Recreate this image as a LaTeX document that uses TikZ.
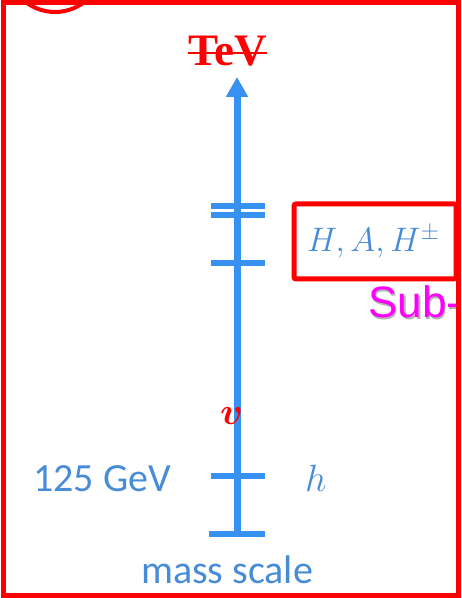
\RequirePackage{fix-cm}
\documentclass[tikz,border=0pt]{standalone}
\usepackage{bm}
\usepackage{fontspec}
\newfontfamily\carlito{Carlito}
\newfontfamily\libsans{Liberation Sans}
\newfontfamily\libserif{Liberation Serif}
\usetikzlibrary{arrows.meta}
\definecolor{axisblue}{RGB}{55,145,240}
\definecolor{textblue}{RGB}{72,140,215}
\definecolor{magent}{RGB}{255,0,255}
\begin{document}
\begin{tikzpicture}[x=1pt,y=1pt,
  tickmark/.style={draw=axisblue,line width=6pt},
  bluetext/.style={text=textblue,inner sep=0pt},
  frame/.style={draw=red,line width=5pt}]
\useasboundingbox (0,0) rectangle (462,598);
\clip (0,0) rectangle (462,598);
% axis
\coordinate (bot) at (237,64);
\coordinate (top) at (237,521);
\draw[draw=axisblue,line width=7pt,-{Triangle[width=21pt,length=20pt]}] (bot) -- (top);
% ticks
\coordinate (t1l) at (211,392); \coordinate (t1r) at (265,392);
\coordinate (t2l) at (211,383); \coordinate (t2r) at (265,383);
\coordinate (t3l) at (211,335); \coordinate (t3r) at (265,335);
\coordinate (t4l) at (211,122); \coordinate (t4r) at (265,122);
\coordinate (t5l) at (209,64);  \coordinate (t5r) at (265,64);
\draw[tickmark] (t1l) -- (t1r);
\draw[tickmark] (t2l) -- (t2r);
\draw[tickmark] (t3l) -- (t3r);
\draw[tickmark] (t4l) -- (t4r);
\draw[tickmark] (t5l) -- (t5r);
% labels
\node[bluetext,anchor=base west,font=\carlito\fontsize{40}{44}\selectfont] (gev) at (33,106) {125 GeV};
\node[bluetext,anchor=base west,font=\fontsize{38}{42}\selectfont] (h) at (305,106) {$h$};
\node[bluetext,anchor=base,font=\carlito\fontsize{40}{44}\selectfont] (mass) at (227,15) {mass scale};
\node[bluetext,anchor=base west,font=\fontsize{34}{38}\selectfont] (heavy) at (307,346) {$H,A,H^{\pm}$};
\node[text=red,anchor=base west,inner sep=0pt,font=\fontsize{38}{42}\selectfont] (vev) at (220,173) {$\bm{v}$};
% TeV struck
\node[text=red,anchor=base west,inner sep=0pt,font=\libserif\bfseries\fontsize{45}{50}\selectfont] (tev) at (188,532) {TeV};
\draw[red,line width=2pt] (tev.west |- 0,545) -- (tev.east |- 0,545);
% Sub- with shadow
\node[text=black!30,anchor=base west,inner sep=0pt,font=\libsans\fontsize{44}{48}\selectfont] (subs) at (369.5,278.5) {Sub-};
\node[text=magent,anchor=base west,inner sep=0pt,font=\libsans\fontsize{44}{48}\selectfont] (sub) at (368,280) {Sub-};
% red box
\draw[frame,rounded corners=2pt] (294,394) rectangle (456,319);
% outer frame
\draw[frame] (3.5,595) rectangle (458.5,2.5);
% arc top-left
\draw[red,line width=4pt] (55,634) circle (48);
\end{tikzpicture}
\end{document}
